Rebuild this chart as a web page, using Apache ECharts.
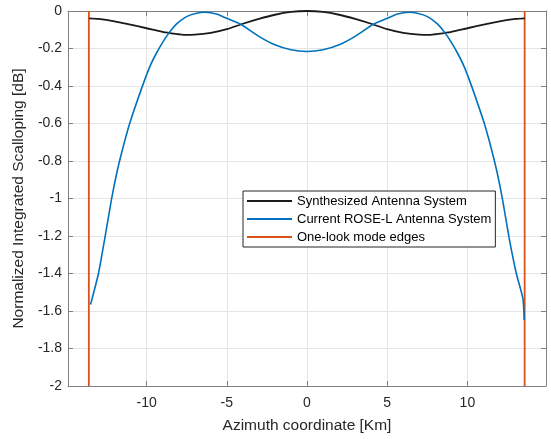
<!DOCTYPE html>
<html>
<head>
<meta charset="utf-8">
<script src="https://cdn.jsdelivr.net/npm/echarts@6/dist/echarts.min.js"></script>
<style>
html,body{margin:0;padding:0;background:#fff;}
#chart{width:551px;height:439px;}
</style>
</head>
<body>
<div id="chart"></div>
<script>
//数据
var synthX = [-13.58, -13, -12, -11, -10, -9, -8, -7.7, -7, -6, -5, -4, -3, -2, -1, 0, 1, 2, 3, 4, 5, 6, 7, 7.7, 8, 9, 10, 11, 12, 13, 13.58];
var synthY = [-0.039, -0.042, -0.055, -0.073, -0.092, -0.111, -0.124, -0.127, -0.126, -0.117, -0.097, -0.068, -0.042, -0.020, -0.005, 0, -0.005, -0.020, -0.042, -0.068, -0.097, -0.117, -0.126, -0.127, -0.124, -0.111, -0.092, -0.073, -0.055, -0.042, -0.039];
var roseX = [-13.5, -13.46, -13.0, -12.6, -12.2, -11.85, -11.5, -11.04, -10.25, -9.79, -9.38, -8.97, -8.61, -8.13, -7.51, -6.88, -6.37, -5.64, -5, -4.16, -3, -2, -1, 0,
             1, 2, 3, 4.16, 5, 5.64, 6.37, 6.88, 7.51, 8.13, 8.61, 8.97, 9.38, 9.79, 10.25, 11.04, 11.5, 11.85, 12.2, 12.6, 13.05, 13.46, 13.54];
var roseY = [-1.565, -1.555, -1.40, -1.21, -1.01, -0.86, -0.737, -0.596, -0.398, -0.295, -0.224, -0.163, -0.118, -0.069, -0.030, -0.012, -0.007, -0.016, -0.039, -0.069, -0.135, -0.180, -0.207, -0.216,
             -0.207, -0.180, -0.135, -0.069, -0.039, -0.016, -0.007, -0.012, -0.030, -0.069, -0.118, -0.163, -0.224, -0.295, -0.398, -0.596, -0.737, -0.86, -1.01, -1.21, -1.40, -1.533, -1.648];
var edgeX = [-13.6, 13.57];
var xTicks = [-10, -5, 0, 5, 10];
var xRange = [-14.9, 14.9];
var yRange = [-2, 0];

function pairs(xs, ys){
    var out = [];
    for(var i=0;i<xs.length;i++){
        out.push([xs[i], ys[i]]);
    }
    return out;
}

var txtColor = '#262626';
var fontFam = '"Liberation Sans", Arial, sans-serif';
var boxLine = {show: true, onZero: false, lineStyle: {color: '#808080', width: 1}};
var tickIn = {show: true, inside: true, length: 5, lineStyle: {color: '#808080'}};

var myChart = echarts.init(document.getElementById('chart'));
var option = {
    animation: false,
    backgroundColor: '#fff',
    grid: {left: 68, right: 5, top: 11, bottom: 51, containLabel: false},
    legend: {
        orient: 'vertical',
        left: 243,
        top: 191,
        data: ['Synthesized Antenna System', 'Current ROSE-L Antenna System', 'One-look mode edges'],
        icon: 'rect',
        itemWidth: 45,
        itemHeight: 2,
        itemGap: 4,
        padding: [3, 4, 3, 4],
        backgroundColor: '#fff',
        borderColor: '#262626',
        borderWidth: 1,
        textStyle: {color: '#000', fontSize: 13, fontFamily: fontFam, lineHeight: 14}
    },
    xAxis: [
        {
            type: 'value', min: xRange[0], max: xRange[1],
            name: 'Azimuth coordinate [Km]', nameLocation: 'middle', nameGap: 32,
            nameTextStyle: {color: txtColor, fontSize: 15.5, fontFamily: fontFam},
            axisLine: boxLine,
            axisTick: {show: true, inside: true, length: 5, lineStyle: {color: '#808080'}, customValues: xTicks},
            axisLabel: {color: txtColor, fontSize: 14, fontFamily: fontFam, margin: 10, customValues: xTicks},
            splitLine: {show: true, lineStyle: {color: '#e5e5e5', width: 1}}
        },
        {
            type: 'value', min: xRange[0], max: xRange[1], position: 'top',
            axisLine: boxLine,
            axisTick: {show: true, inside: true, length: 5, lineStyle: {color: '#808080'}, customValues: xTicks},
            axisLabel: {show: false},
            splitLine: {show: false}
        }
    ],
    yAxis: [
        {
            type: 'value', min: yRange[0], max: yRange[1], interval: 0.2,
            name: 'Normalized Integrated Scalloping [dB]', nameLocation: 'middle', nameGap: 32,
            nameTextStyle: {color: txtColor, fontSize: 15.5, fontFamily: fontFam},
            axisLine: boxLine,
            axisTick: tickIn,
            axisLabel: {color: txtColor, fontSize: 14, fontFamily: fontFam, margin: 6,
                formatter: function(v){ return String(Math.round(v*10)/10); }},
            splitLine: {show: true, lineStyle: {color: '#e5e5e5', width: 1}}
        },
        {
            type: 'value', min: yRange[0], max: yRange[1], interval: 0.2, position: 'right',
            axisLine: boxLine,
            axisTick: tickIn,
            axisLabel: {show: false},
            splitLine: {show: false}
        }
    ],
    series: [
        {
            name: 'Synthesized Antenna System', type: 'line',
            data: pairs(synthX, synthY), showSymbol: false, smooth: 0.3,
            lineStyle: {color: '#1a1a1a', width: 1.8}, itemStyle: {color: '#1a1a1a'}, z: 3
        },
        {
            name: 'Current ROSE-L Antenna System', type: 'line',
            data: pairs(roseX, roseY), showSymbol: false, smooth: 0.2,
            lineStyle: {color: '#0072BD', width: 1.6}, itemStyle: {color: '#0072BD'}, z: 4
        },
        {
            name: 'One-look mode edges', type: 'line',
            data: [[edgeX[0], yRange[0]], [edgeX[0], yRange[1]]], showSymbol: false,
            lineStyle: {color: '#D95319', width: 1.8}, itemStyle: {color: '#D95319'}, z: 2
        },
        {
            name: 'One-look mode edges', type: 'line',
            data: [[edgeX[1], yRange[0]], [edgeX[1], yRange[1]]], showSymbol: false,
            lineStyle: {color: '#D95319', width: 1.8}, itemStyle: {color: '#D95319'}, z: 2
        }
    ]
};
myChart.setOption(option);
</script>
</body>
</html>
